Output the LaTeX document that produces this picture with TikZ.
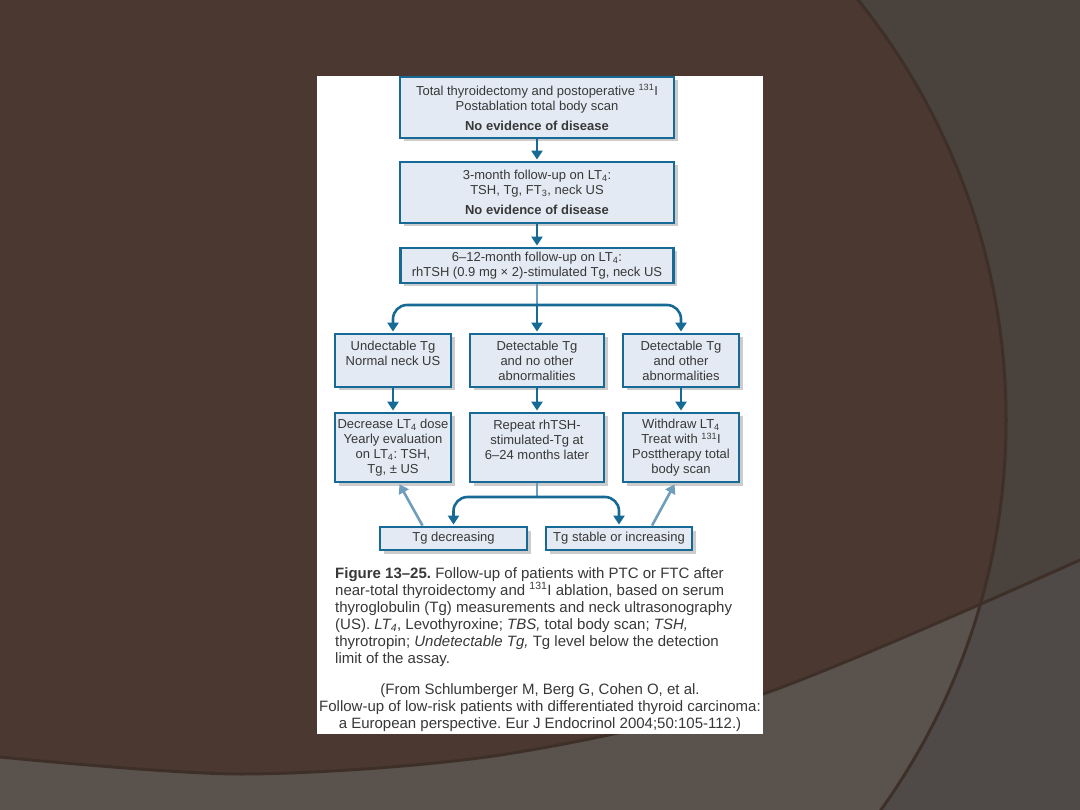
\documentclass[tikz,border=0pt]{standalone}
\usepackage{fontspec}
\setmainfont{Liberation Sans}
\usetikzlibrary{arrows.meta,shadows}
\frenchspacing

\definecolor{slidebrown}{HTML}{4B3931}
\definecolor{slidegrey}{HTML}{49423D}
\definecolor{bandgrey}{HTML}{5A524D}
\definecolor{cornergrey}{HTML}{4F4A47}
\definecolor{edgebrown}{HTML}{3E3029}
\definecolor{boxblue}{HTML}{186A96}
\definecolor{paleblue}{HTML}{6F9DBC}
\definecolor{boxfill}{HTML}{E3EAF3}
\definecolor{inktext}{HTML}{383838}

\newcommand{\flowfont}{\fontsize{13}{15}\selectfont}
\newcommand{\capfont}{\fontsize{15}{17}\selectfont}

\tikzset{
  flowbox/.style={draw=boxblue, line width=2.8pt, fill=boxfill, align=center,
    inner sep=0pt, font=\flowfont, text=inktext,
    drop shadow={shadow xshift=3.5pt, shadow yshift=-3.5pt, fill=black!20, opacity=1}},
  flowline/.style={draw=boxblue, line width=2.6pt},
  flowarrow/.style={flowline, -{Triangle[length=9pt,width=11pt]}, shorten >=1pt},
  backarrow/.style={flowarrow, draw=paleblue},
  captext/.style={inner sep=0pt, font=\capfont, text=inktext},
}

\begin{document}
\begin{tikzpicture}[x=1pt,y=-1pt]
\useasboundingbox (0,0) rectangle (1080,810);

% slide background
\fill[slidegrey] (0,0) rectangle (1080,810);
\fill[slidebrown] (336,420) circle[radius=670pt];
\begin{scope}
  \clip (0,0) rectangle (1080,810);
  \fill[cornergrey] plot[smooth] coordinates {(0,757) (243,774) (500,755) (760,695) (1080,560)}
    -- (1080,810) -- (0,810) -- cycle;
  \begin{scope}
    \clip (336,420) circle[radius=670pt];
    \fill[bandgrey] plot[smooth] coordinates {(0,757) (243,774) (500,755) (760,695) (1080,560)}
      -- (1080,810) -- (0,810) -- cycle;
  \end{scope}
  \draw[edgebrown, line width=3pt] (336,420) circle[radius=670pt];
  \draw[edgebrown, line width=3pt] plot[smooth] coordinates {(0,757) (243,774) (500,755) (760,695) (1080,560)};
\end{scope}

% figure page
\fill[white] (317,76) rectangle (763,734);

% main column
\node[flowbox, minimum width=274pt, minimum height=61pt] (total) at (537,107.5)
  {Total thyroidectomy and postoperative \textsuperscript{131}I\\Postablation total body scan\\[5pt]\textbf{No evidence of disease}};
\node[flowbox, minimum width=274pt, minimum height=61pt] (threemonth) at (537,192.5)
  {3-month follow-up on LT\textsubscript{4}:\\TSH, Tg, FT\textsubscript{3}, neck US\\[5pt]\textbf{No evidence of disease}};
\node[flowbox, minimum width=273pt, minimum height=35pt] (sixmonth) at (537,265.5)
  {6--12-month follow-up on LT\textsubscript{4}:\\rhTSH (0.9 mg × 2)-stimulated Tg, neck US};

% findings
\node[flowbox, minimum width=116pt, minimum height=53pt] (undet) at (393,360.5) {Undectable Tg\\Normal neck US\\~};
\node[flowbox, minimum width=134pt, minimum height=53pt] (detno) at (537,360.5) {Detectable Tg\\and no other\\abnormalities};
\node[flowbox, minimum width=116pt, minimum height=53pt] (detoth) at (681,360.5) {Detectable Tg\\and other\\abnormalities};

% management
\node[flowbox, minimum width=116pt, minimum height=69pt] (decrease) at (393,447.5)
  {Decrease LT\textsubscript{4} dose\\Yearly evaluation\\on LT\textsubscript{4}: TSH,\\Tg, ± US};
\node[flowbox, minimum width=134pt, minimum height=69pt] (repeat) at (537,447.5)
  {Repeat rhTSH-\\stimulated-Tg at\\6--24 months later\\~};
\node[flowbox, minimum width=116pt, minimum height=69pt] (withdraw) at (681,447.5)
  {Withdraw LT\textsubscript{4}\\Treat with \textsuperscript{131}I\\Posttherapy total\\body scan};

% Tg trend
\node[flowbox, minimum width=147pt, minimum height=23pt] (tgdec) at (453.5,538.5) {Tg decreasing};
\node[flowbox, minimum width=146pt, minimum height=23pt] (tgstab) at (619,538.5) {Tg stable or increasing};

% connectors
\coordinate (fork) at (537,305);
\coordinate (merge) at (537,497);
\draw[flowarrow] (total) -- (threemonth);
\draw[flowarrow] (threemonth) -- (sixmonth);
\draw[flowline, draw=paleblue] (sixmonth) -- (fork);
\draw[flowarrow, rounded corners=14pt] (fork) -| (undet);
\draw[flowarrow, rounded corners=14pt] (fork) -| (detoth);
\draw[flowarrow] (fork) -- (detno);
\draw[flowarrow] (undet) -- (decrease);
\draw[flowarrow] (detno) -- (repeat);
\draw[flowarrow] (detoth) -- (withdraw);
\draw[flowline, draw=paleblue] (repeat) -- (merge);
\draw[flowarrow, rounded corners=14pt] (merge) -| (tgdec);
\draw[flowarrow, rounded corners=14pt] (merge) -| (tgstab);
\draw[backarrow] ([xshift=-31pt]tgdec.north) -- ([xshift=6pt]decrease.south);
\draw[backarrow] ([xshift=33pt]tgstab.north) -- ([xshift=-6pt]withdraw.south);

% legend and source
\node[captext, align=left, anchor=north west] (caption) at (335,567)
  {\textbf{Figure 13--25.} Follow-up of patients with PTC or FTC after\\
   near-total thyroidectomy and \textsuperscript{131}I ablation, based on serum\\
   thyroglobulin (Tg) measurements and neck ultrasonography\\
   (US). \textit{LT\textsubscript{4}}, Levothyroxine; \textit{TBS,} total body scan; \textit{TSH,}\\
   thyrotropin; \textit{Undetectable Tg,} Tg level below the detection\\
   limit of the assay.};
\node[captext, align=center, anchor=north] (source) at (540,683)
  {(From Schlumberger M, Berg G, Cohen O, et al.\\
   Follow-up of low-risk patients with differentiated thyroid carcinoma:\\
   a European perspective. Eur J Endocrinol 2004;50:105-112.)};
\end{tikzpicture}
\end{document}
